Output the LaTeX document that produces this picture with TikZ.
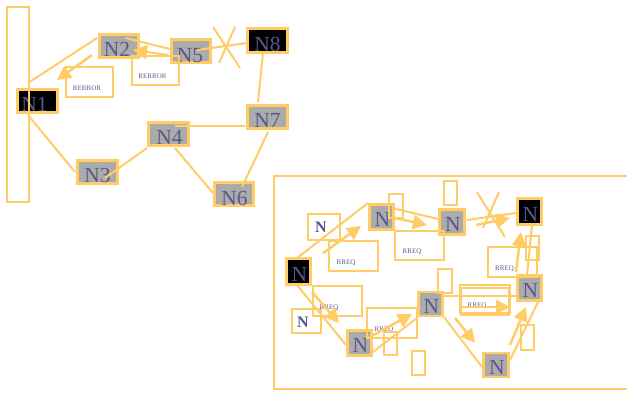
\documentclass[tikz,border=0pt]{standalone}
\usepackage{fontspec}
\setmainfont{Liberation Serif}
\usetikzlibrary{arrows.meta,calc}
\definecolor{edge}{HTML}{FFCC66}
\definecolor{hostgray}{HTML}{ABABAB}
\definecolor{ink}{HTML}{58588C}
\begin{document}
\begin{tikzpicture}[x=1pt,y=-1pt,
  frame/.style={draw=edge,line width=2.2pt},
  host/.style={draw=edge,line width=2.6pt,fill=hostgray,minimum width=39.5pt,minimum height=23.5pt,inner sep=0pt},
  dest/.style={host,fill=black},
  mhost/.style={draw=edge,line width=2.6pt,fill=hostgray,minimum width=24.5pt,minimum height=25.5pt,inner sep=0pt},
  mdest/.style={mhost,fill=black},
  tag/.style={text=ink,inner sep=0pt,font=\fontsize{21.5}{21.5}\selectfont},
  btag/.style={text=ink,inner sep=0pt,font=\fontsize{16}{16}\selectfont\bfseries},
  msg/.style={text=ink,inner sep=0pt,font=\fontsize{7}{7}\selectfont},
  link/.style={draw=edge,line width=2pt},
  send/.style={draw=edge,line width=2.5pt,-{Triangle[length=14pt,width=14pt]}},
]
\useasboundingbox (0,0) rectangle (627,392);

% ---------- route error: broken link N5--N8 ----------
\node[dest] (n1) at (37.5,101) {};
\node[host] (n2) at (119,46) {};
\node[host] (n5) at (191,51) {};
\node[dest] (n8) at (267.5,40.5) {};
\node[host] (n7) at (267.5,117) {};
\node[host] (n4) at (168.5,134) {};
\node[host] (n3) at (97.5,172) {};
\node[host] (n6) at (234,194) {};

\node[tag] (t1) at ($(n1)+(-3,3.5)$) {N1};
\node[tag] (t2) at ($(n2)+(-2,3.5)$) {N2};
\node[tag] (t5) at ($(n5)+(-1,4.5)$) {N5};
\node[tag] (t8) at ($(n8)+(0,4)$) {N8};
\node[tag] (t7) at ($(n7)+(0,3.5)$) {N7};
\node[tag] (t4) at ($(n4)+(1,3)$) {N4};
\node[tag] (t3) at ($(n3)+(0,3.5)$) {N3};
\node[tag] (t6) at ($(n6)+(0.5,4)$) {N6};

% source host column
\node[frame,minimum width=22pt,minimum height=195pt,inner sep=0pt] (bar) at (18,104.5) {};

% RERROR messages
\draw[frame] (66,67) rectangle (113,97);
\node[msg] (m1) at (87,88.5) {RERROR};
\draw[frame] (132,56) rectangle (179,85);
\node[msg] (m2) at (152.5,76.5) {RERROR};

\draw[link] ($(n1)+(-9.5,-18)$) -- ($(n2)+(-22,-8)$);
\draw[link] ($(n1)+(-9.5,14)$) -- ($(n3)+(-22.5,0)$);
\draw[link] ($(n3)+(7.5,6)$) -- ($(n4)+(-21.5,14)$);
\draw[link] ($(n4)+(6.5,14)$) -- ($(n6)+(-21,-1)$);
\draw[link] ($(n6)+(8,-7)$) -- ($(n7)+(0.5,15)$);
\draw[link] ($(n4)+(6.5,-8)$) -- ($(n7)+(-22.5,9)$);
\draw[link] ($(n7)+(-9.5,-15)$) -- ($(n8)+(-4.5,12.5)$);
\draw[link] ($(n5)+(6,-1)$) -- ($(n8)+(-20.5,2.5)$);
\draw[link] ($(n2)+(7,-8)$) -- ($(n5)+(-21,-2)$);
% broken link marker
\draw[link] (213,27) -- (240,68);
\draw[link] (235,27) -- (219,63);

\draw[send] ($(n2)+(-27,9)$) -- ($(n1)+(19.5,-21)$);
\draw[send,line width=2pt] ($(n5)+(-23,4)$) -- ($(n2)+(14,4)$);

% ---------- route request flooding ----------
\draw[frame] (627,176) -| (274,389) -- (627,389);

\node[mdest] (s) at (298.5,271.5) {};
\node[frame,minimum width=32pt,minimum height=26pt,inner sep=0pt] (w1) at (324,227) {};
\node[mhost] (a) at (381.5,217) {};
\node[mhost] (b) at (452,222) {};
\node[mdest] (d) at (529.5,211.5) {};
\node[mhost] (e) at (529.5,288) {};
\node[mhost,minimum height=24pt] (c) at (430.5,304) {};
\node[mhost,minimum height=24pt] (f) at (496,365) {};
\node[mhost] (g) at (359.5,343) {};
\node[frame,minimum width=29pt,minimum height=24pt,inner sep=0pt] (w2) at (306.5,321) {};

\node[tag] (ts) at ($(s)+(1,2.5)$) {N};
\node[tag] (ta) at ($(a)+(1,2.5)$) {N};
\node[tag] (tb) at ($(b)+(1,2.5)$) {N};
\node[tag] (td) at ($(d)+(1,2.5)$) {N};
\node[tag] (te) at ($(e)+(1,2.5)$) {N};
\node[tag] (tc) at ($(c)+(1,2.5)$) {N};
\node[tag] (tf) at ($(f)+(1,2.5)$) {N};
\node[tag] (tg) at ($(g)+(1,2.5)$) {N};
\node[btag] (tw1) at ($(w1)+(-3,0.5)$) {N};
\node[btag] (tw2) at ($(w2)+(-3.5,1)$) {N};

% RREQ messages
\draw[frame] (329,241) rectangle (378,271);
\node[msg] (q1) at (346,262.5) {RREQ};
\draw[frame] (395,231) rectangle (444,260);
\node[msg] (q2) at (412,251.5) {RREQ};
\draw[frame] (488,247) rectangle (537,277);
\node[msg] (q3) at (504.5,269) {RREQ};
\draw[frame] (460,285) rectangle (510,313);
\draw[frame] (461,288) rectangle (509,315);
\node[msg] (q4) at (477,306) {RREQ};
\draw[frame] (313,286) rectangle (362,316);
\node[msg] (q5) at (329,307.5) {RREQ};
\draw[frame] (367,308) rectangle (417,338);
\node[msg] (q6) at (384,330) {RREQ};

% empty packet slots
\draw[frame] (389,194) rectangle (403,218);
\draw[frame] (444,181) rectangle (457,205);
\draw[frame] (526,236) rectangle (539,260);
\draw[frame] (438,269) rectangle (452,293);
\draw[frame] (521,325) rectangle (534,350);
\draw[frame] (384,332) rectangle (397,355);
\draw[frame] (412,351) rectangle (425,375);

\draw[link] ($(s)+(-1.5,-13.5)$) -- ($(a)+(-13.5,-14)$);
\draw[link] ($(a)+(10.5,-9)$) -- ($(b)+(-14,-3)$);
\draw[link] ($(b)+(15,-2)$) -- ($(d)+(-13.5,1.5)$);
\draw[link] ($(d)+(2.5,13.5)$) -- ($(e)+(-2.5,-13)$);
\draw[link] ($(s)+(-1.5,13.5)$) -- ($(g)+(-13.5,2)$);
\draw[link] ($(g)+(13.5,9)$) -- ($(c)+(-13.5,14)$);
\draw[link] ($(c)+(13.5,-8)$) -- ($(e)+(-13.5,8)$);
\draw[link] ($(c)+(13.5,13)$) -- ($(f)+(-14,2)$);
\draw[link] ($(f)+(14,-5)$) -- ($(e)+(8.5,14)$);
% broken link marker
\draw[link] (477,192) -- (505,237);
\draw[link] (499,192) -- (483,228);

\draw[send] ($(s)+(24.5,-18.5)$) -- ($(a)+(-20.5,9)$);
\draw[send] ($(a)+(13.5,1)$) -- ($(b)+(-25,3)$);
\draw[send] ($(b)+(24,3)$) -- ($(d)+(-19.5,6.5)$);
\draw[send] ($(e)+(-13.5,-16)$) -- ($(d)+(-8.5,20.5)$);
\draw[send] ($(c)+(29.5,3)$) -- ($(e)+(-19.5,19)$);
\draw[send] ($(c)+(24.5,14)$) -- ($(f)+(-21,-22)$);
\draw[send] ($(f)+(14,-20)$) -- ($(e)+(-3.5,19)$);
\draw[send] ($(s)+(13.5,20.5)$) -- ($(g)+(-20.5,-20)$);
\draw[send] ($(g)+(8.5,-5)$) -- ($(c)+(-18.5,10)$);
\end{tikzpicture}
\end{document}
